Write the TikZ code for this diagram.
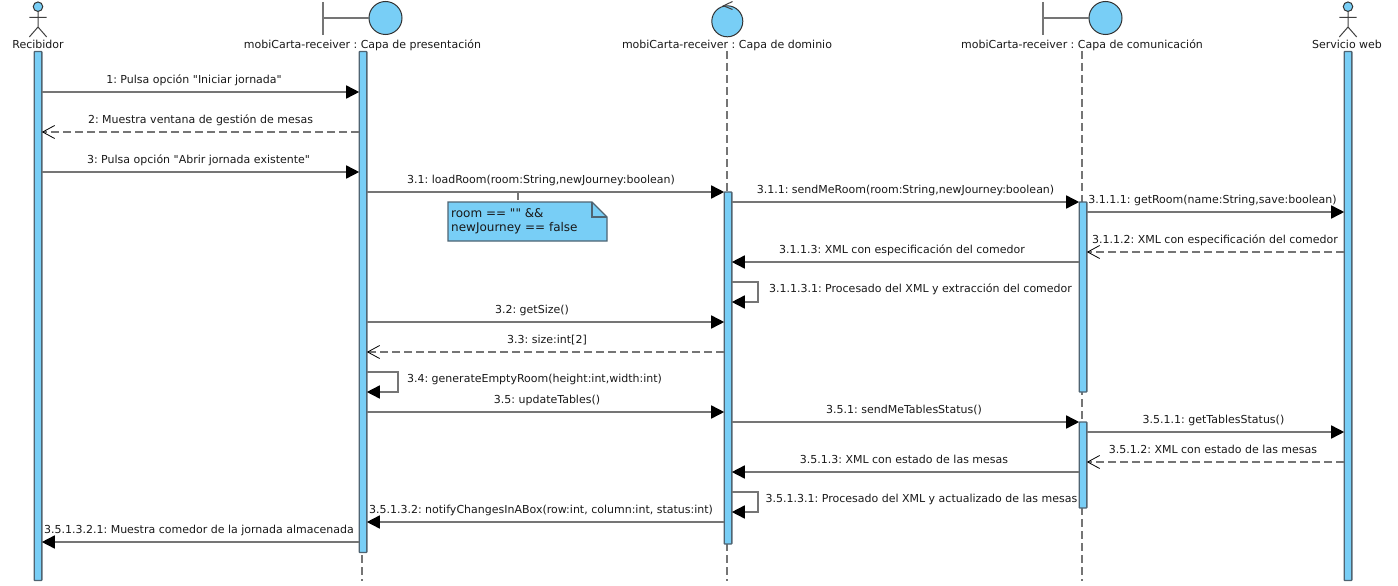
\documentclass[tikz,border=0pt]{standalone}
\usepackage{fontspec}
\setmainfont{DejaVu Sans}[Ligatures=TeXOff]
\usetikzlibrary{arrows.meta}
\definecolor{umlblue}{HTML}{78CEF6}
\definecolor{umlgray}{HTML}{757575}
\definecolor{umledge}{HTML}{4F6472}
\tikzset{
  actbar/.style={draw=umledge,fill=umlblue,line width=1.4pt,rounded corners=0.6pt,minimum width=7.6pt,inner sep=0pt,outer sep=0pt},
  lifeline/.style={draw=umlgray,line width=1.6pt,dash pattern=on 8pt off 4pt},
  msg/.style={draw=umlgray,line width=1.6pt,-{Triangle[black,length=13pt,width=13pt]}},
  reply/.style={draw=umlgray,line width=1.6pt,dash pattern=on 8pt off 4pt,-{Straight Barb[black,length=12pt,width=13pt,line width=0.8pt]}},
  msgtext/.style={font=\fontsize{11}{13}\selectfont\frenchspacing,text=black!90,inner sep=0pt,anchor=base,yshift=-4.3pt},
  headtext/.style={msgtext},
  iconball/.style={circle,draw=black!80,fill=umlblue,line width=1pt,inner sep=0pt,outer sep=0pt},
  iconline/.style={draw=umlgray,line width=1.6pt},
  actorline/.style={draw=black!75,line width=1pt},
}
\begin{document}
\begin{tikzpicture}[x=1pt,y=-1pt]
\useasboundingbox (0,0) rectangle (1398,586);
% rows of the messages
\foreach \n/\y in {1/92,2/132,3/172,4/192,5/202,6/212,7/252,8/262,9/282,10/302,11/322,12/352,13/372,14/392,15/412,16/422,17/432,18/462,19/472,20/492,21/512,22/522,23/542}
  \coordinate (r\n) at (0,\y);
\coordinate (presend) at (362,581);
\coordinate (domend) at (727,581);
\coordinate (comend) at (1082,581);
\coordinate (notec) at (518,192);
% head labels
\node[headtext] (recname) at (38,44) {Recibidor};
\node[headtext] (presname) at (362.5,44) {mobiCarta-receiver : Capa de presentación};
\node[headtext] (domname) at (727,44) {mobiCarta-receiver : Capa de dominio};
\node[headtext] (comname) at (1082,44) {mobiCarta-receiver : Capa de comunicación};
\node[headtext] (webname) at (1347,44) {Servicio web};
% actor icons
\node[iconball,minimum size=9.5pt] (rechead) at (38,6.7) {};
\draw[actorline] (rechead.south) -- (38,27) (29.3,17.3) -- (46.7,17.3) (29.3,37) -- (38,27) -- (46.7,37);
\node[iconball,minimum size=9.5pt] (webhead) at (1348,6.7) {};
\draw[actorline] (webhead.south) -- (1348,27) (1339.3,17.3) -- (1356.7,17.3) (1339.3,37) -- (1348,27) -- (1356.7,37);
% boundary icons
\node[iconball,minimum size=33pt] (presball) at (385.5,18) {};
\draw[iconline] (presball.west) -- (323,18) (323,2) -- (323,35);
\node[iconball,minimum size=33pt] (comball) at (1105.5,18) {};
\draw[iconline] (comball.west) -- (1043,18) (1043,2) -- (1043,35);
% control icon
\node[iconball,minimum size=31pt] (domball) at (727.3,21.3) {};
\draw[actorline] (732.5,1.5) -- (723.5,5.8) -- (732.5,9.5);
% lifelines
\draw[lifeline] (presend |- 0,51) -- (presend);
\draw[lifeline] (domend |- 0,51) -- (domend);
\draw[lifeline] (comend |- 0,51) -- (comend);
% activation bars
\node[actbar,minimum height=529pt] (recbar) at (38,316) {};
\node[actbar,minimum height=501pt] (presbar) at (363,302) {};
\node[actbar,minimum height=352pt] (dombar) at (728,368) {};
\node[actbar,minimum height=190pt] (combara) at (1083,297) {};
\node[actbar,minimum height=86pt] (combarb) at (1083,465) {};
\node[actbar,minimum height=529pt] (webbar) at (1348,316) {};
% note
\node[minimum width=159pt,minimum height=39pt,inner sep=0pt,outer sep=0pt] (note) at (527.5,221.5) {};
\draw[lifeline,line width=1.2pt] (notec) -- (note.north -| notec);
\draw[draw=umledge,fill=umlblue,line width=1.2pt] (note.north west) -- ([xshift=-15pt]note.north east) -- ([yshift=-15pt]note.north east) -- (note.south east) -- (note.south west) -- cycle;
\draw[draw=umledge,line width=1.2pt] ([xshift=-15pt]note.north east) -- ([xshift=-15pt,yshift=-15pt]note.north east) -- ([yshift=-15pt]note.north east);
\node[anchor=west,align=left,inner sep=0pt,font=\fontsize{12}{14}\selectfont\frenchspacing,text=black!90] (notetext) at ([xshift=3pt]note.west) {room == "" \&\&\\newJourney == false};
% messages
\draw[msg] (recbar.east |- r1) -- (presbar.west |- r1);
\node[msgtext] (m1) at (194,79) {1: Pulsa opción "Iniciar jornada"};
\draw[reply] (presbar.west |- r2) -- (recbar.east |- r2);
\node[msgtext] (m2) at (200.5,119) {2: Muestra ventana de gestión de mesas};
\draw[msg] (recbar.east |- r3) -- (presbar.west |- r3);
\node[msgtext] (m3) at (198.5,159) {3: Pulsa opción "Abrir jornada existente"};
\draw[msg] (presbar.east |- r4) -- (dombar.west |- r4);
\node[msgtext] (m31) at (541,179) {3.1: loadRoom(room:String,newJourney:boolean)};
\draw[msg] (dombar.east |- r5) -- (combara.west |- r5);
\node[msgtext] (m311) at (905.5,189) {3.1.1: sendMeRoom(room:String,newJourney:boolean)};
\draw[msg] (combara.east |- r6) -- (webbar.west |- r6);
\node[msgtext] (m3111) at (1212.5,199) {3.1.1.1: getRoom(name:String,save:boolean)};
\draw[reply] (webbar.west |- r7) -- (combara.east |- r7);
\node[msgtext] (m3112) at (1215,239) {3.1.1.2: XML con especificación del comedor};
\draw[msg] (combara.west |- r8) -- (dombar.east |- r8);
\node[msgtext] (m3113) at (902,249) {3.1.1.3: XML con especificación del comedor};
\draw[msg] (dombar.east |- r9) -- ++(26,0) |- (dombar.east |- r10);
\node[msgtext] (m31131) at (920.5,288) {3.1.1.3.1: Procesado del XML y extracción del comedor};
\draw[msg] (presbar.east |- r11) -- (dombar.west |- r11);
\node[msgtext] (m32) at (532,309) {3.2: getSize()};
\draw[reply] (dombar.west |- r12) -- (presbar.east |- r12);
\node[msgtext] (m33) at (547,339) {3.3: size:int[2]};
\draw[msg] (presbar.east |- r13) -- ++(31,0) |- (presbar.east |- r14);
\node[msgtext] (m34) at (534.5,378) {3.4: generateEmptyRoom(height:int,width:int)};
\draw[msg] (presbar.east |- r15) -- (dombar.west |- r15);
\node[msgtext] (m35) at (547,399) {3.5: updateTables()};
\draw[msg] (dombar.east |- r16) -- (combarb.west |- r16);
\node[msgtext] (m351) at (904,409) {3.5.1: sendMeTablesStatus()};
\draw[msg] (combarb.east |- r17) -- (webbar.west |- r17);
\node[msgtext] (m3511) at (1213.5,419) {3.5.1.1: getTablesStatus()};
\draw[reply] (webbar.west |- r18) -- (combarb.east |- r18);
\node[msgtext] (m3512) at (1213,449) {3.5.1.2: XML con estado de las mesas};
\draw[msg] (combarb.west |- r19) -- (dombar.east |- r19);
\node[msgtext] (m3513) at (904,459) {3.5.1.3: XML con estado de las mesas};
\draw[msg] (dombar.east |- r20) -- ++(26,0) |- (dombar.east |- r21);
\node[msgtext] (m35131) at (921.5,498) {3.5.1.3.1: Procesado del XML y actualizado de las mesas};
\draw[msg] (dombar.west |- r22) -- (presbar.east |- r22);
\node[msgtext] (m35132) at (541,509) {3.5.1.3.2: notifyChangesInABox(row:int, column:int, status:int)};
\draw[msg] (presbar.west |- r23) -- (recbar.east |- r23);
\node[msgtext] (m351321) at (199,529) {3.5.1.3.2.1: Muestra comedor de la jornada almacenada};
\end{tikzpicture}
\end{document}
